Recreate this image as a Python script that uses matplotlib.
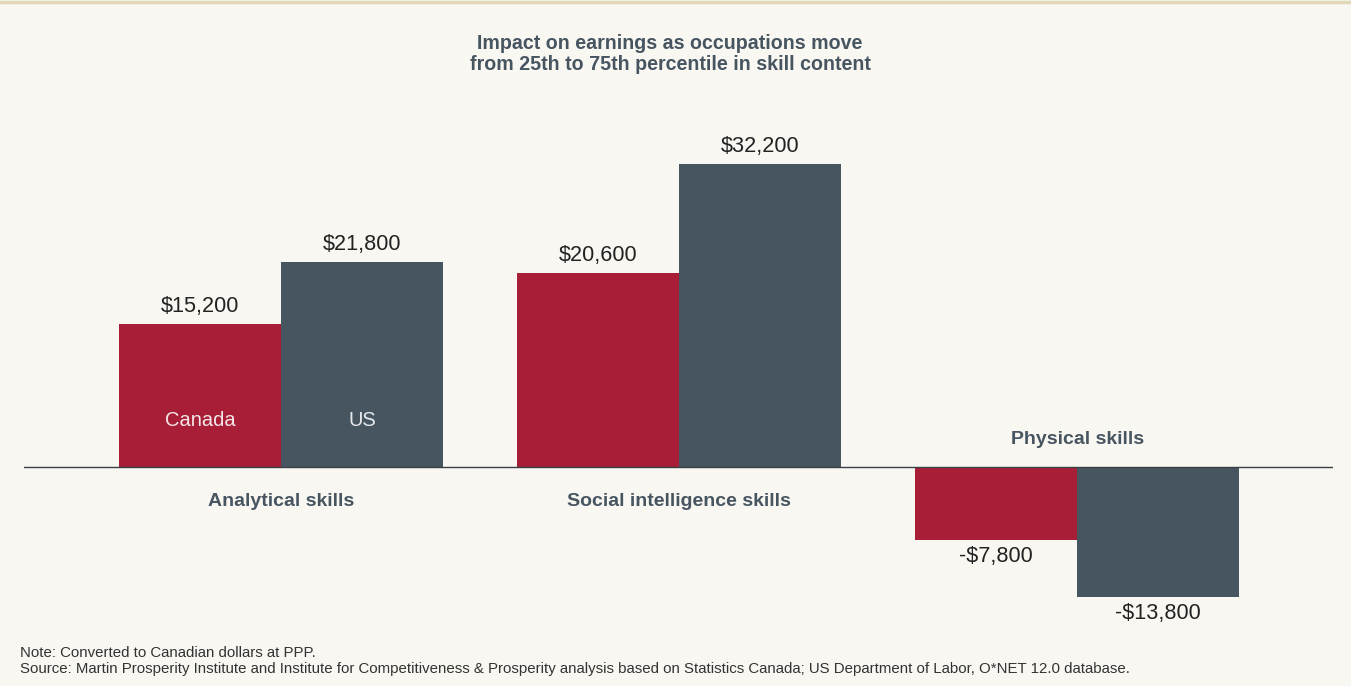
import matplotlib
matplotlib.use("Agg")
import matplotlib.pyplot as plt
from matplotlib.lines import Line2D

# data
categories = ["Analytical skills", "Social intelligence skills", "Physical skills"]
canada = [15200, 20600, -7800]
us = [21800, 32200, -13800]
series_names = ["Canada", "US"]

BG = "#F8F7F2"
RED = "#A91E37"
SLATE = "#475561"
TEXT = "#222222"

plt.rcParams["font.family"] = ["Liberation Sans", "DejaVu Sans"]

fig = plt.figure(figsize=(13.51, 6.86), dpi=100, facecolor=BG)
W, H = 1351, 686

# top beige rule
fig.add_artist(Line2D([0, 1], [1 - 1.5 / H, 1 - 1.5 / H], color="#E2D8B5",
                      linewidth=2.5, transform=fig.transFigure))

ax = fig.add_axes([24 / W, (H - 640) / H, 1309 / W, 520 / H])
ax.set_facecolor(BG)

px_per_unit = 0.0094
ax.set_ylim(-(640 - 467) / px_per_unit, (467 - 120) / px_per_unit)
ax.set_xlim(-0.646, 2.643)

width = 162 / 398
xs = list(range(len(categories)))
ax.bar([x - width / 2 for x in xs], canada, width=width, color=RED, linewidth=0)
ax.bar([x + width / 2 for x in xs], us, width=width, color=SLATE, linewidth=0)

ax.axhline(0, color="#3a3f44", linewidth=1.0)

unit = 1 / px_per_unit
for x, c, u in zip(xs, canada, us):
    for xpos, v in ((x - width / 2, c), (x + width / 2, u)):
        label = f"${v:,}" if v >= 0 else f"-${abs(v):,}"
        if v >= 0:
            ax.text(xpos, v + 18 * unit, label, ha="center", va="center",
                    fontsize=15.6, color=TEXT)
        else:
            ax.text(xpos, v - 16.5 * unit, label, ha="center", va="center",
                    fontsize=15.6, color=TEXT)

# category labels
for x, name, c in zip(xs, categories, canada):
    y = -34 * unit if c >= 0 else 28 * unit
    ax.text(x, y, name, ha="center", va="center", fontsize=14,
            fontweight="bold", color=SLATE)

# series labels inside first group's bars
ax.text(-width / 2, 46 * unit, series_names[0], ha="center", va="center",
        fontsize=14.5, color="#F3E6E8")
ax.text(width / 2, 46 * unit, series_names[1], ha="center", va="center",
        fontsize=14.5, color="#E6E9EC")

for s in ax.spines.values():
    s.set_visible(False)
ax.set_xticks([])
ax.set_yticks([])

fig.text(670 / W, 1 - 54 / H,
         "Impact on earnings as occupations move\nfrom 25th to 75th percentile in skill content",
         ha="center", va="center", fontsize=14.1, fontweight="bold",
         color=SLATE, linespacing=1.15)

fig.text(20 / W, 1 - 653 / H, "Note: Converted to Canadian dollars at PPP.",
         ha="left", va="center", fontsize=10.8, color="#333333")
fig.text(20 / W, 1 - 669 / H,
         "Source: Martin Prosperity Institute and Institute for Competitiveness & Prosperity "
         "analysis based on Statistics Canada; US Department of Labor, O*NET 12.0 database.",
         ha="left", va="center", fontsize=10.8, color="#333333")

fig.savefig("out.png", dpi=100, facecolor=BG)
